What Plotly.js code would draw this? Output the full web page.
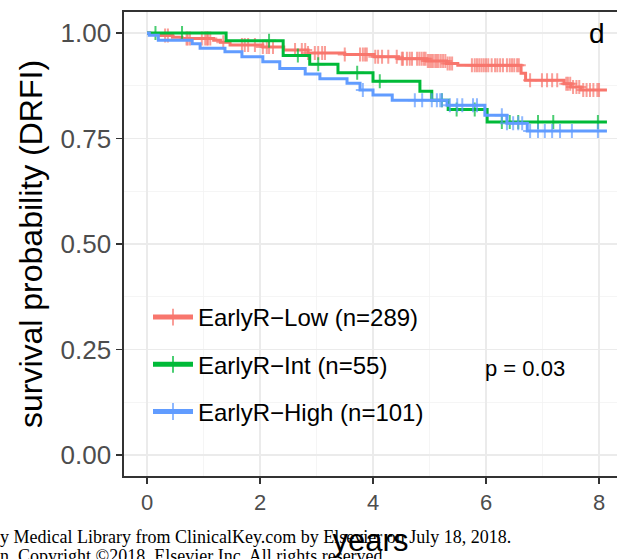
<!DOCTYPE html>
<html>
<head>
<meta charset="utf-8">
<script src="https://cdn.plot.ly/plotly-3.0.1.min.js"></script>
<style>html,body{margin:0;padding:0;background:#fff;overflow:hidden}</style>
</head>
<body>
<div id="chart" style="width:617px;height:559px"></div>
<script>
// ---- data ----
const groupNames = ["EarlyR\u2212Low (n=289)", "EarlyR\u2212Int (n=55)", "EarlyR\u2212High (n=101)"];
const groupColors = ["#F8766D", "#00BA38", "#619CFF"];

const lowEventT = [0.05, 0.22, 0.45, 0.62, 1.18, 1.30, 1.47, 2.05, 2.42, 2.85, 3.50, 4.02, 4.45, 4.95, 5.30, 5.50, 6.62, 6.70, 7.38, 7.50, 7.68];
const lowEventS = [0.997, 0.994, 0.990, 0.987, 0.983, 0.978, 0.972, 0.967, 0.960, 0.953, 0.949, 0.944, 0.939, 0.934, 0.928, 0.924, 0.905, 0.888, 0.880, 0.872, 0.865];
const lowCensor = [0.32, 0.37, 0.70, 0.72, 0.76, 0.97, 1.03, 1.06, 1.08, 1.12, 1.35, 1.68, 1.73, 1.79, 1.91, 2.05, 2.12, 2.16, 2.23, 2.62, 2.74, 2.80, 2.85, 2.97, 3.03, 3.10, 3.15, 3.50, 3.77, 3.82, 3.86, 3.89, 4.04, 4.09, 4.16, 4.27, 4.42, 4.51, 4.53, 4.60, 4.65, 4.69, 4.78, 4.82, 4.86, 4.90, 4.93, 4.97, 5.00, 5.03, 5.06, 5.10, 5.13, 5.16, 5.20, 5.24, 5.28, 5.32, 5.36, 5.40, 5.75, 5.80, 5.84, 5.88, 5.92, 5.96, 6.00, 6.04, 6.10, 6.16, 6.20, 6.25, 6.30, 6.37, 6.42, 6.46, 6.50, 6.55, 6.58, 6.78, 6.99, 7.08, 7.17, 7.26, 7.42, 7.45, 7.49, 7.54, 7.60, 7.65, 7.72, 7.78, 7.84, 7.90, 7.97, 8.00];

const intEventT = [1.40, 2.41, 2.88, 3.38, 4.00, 4.83, 5.04, 5.33, 6.02];
const intEventS = [0.982, 0.947, 0.926, 0.906, 0.886, 0.862, 0.841, 0.819, 0.789];
const intCensor = [0.15, 0.62, 2.16, 2.67, 3.03, 3.72, 4.12, 5.22, 5.48, 5.80, 6.28, 6.42, 6.57, 6.92, 7.19, 7.98];

const highEventT = [0.04, 0.20, 0.80, 0.94, 1.38, 1.68, 2.05, 2.35, 2.80, 3.06, 3.54, 3.77, 4.00, 4.34, 5.31, 5.98, 6.37, 6.73];
const highEventS = [0.995, 0.983, 0.975, 0.964, 0.956, 0.944, 0.932, 0.916, 0.903, 0.892, 0.881, 0.865, 0.853, 0.841, 0.829, 0.805, 0.786, 0.768];
const highCensor = [3.82, 4.74, 4.87, 5.04, 5.13, 5.19, 5.22, 5.36, 5.49, 5.58, 5.77, 5.84, 6.28, 6.37, 6.48, 6.57, 6.64, 6.78, 6.92, 7.04, 7.17, 7.31, 7.52, 7.98];

const followUpEnd = [8.14, 8.14, 8.14];

const yTickVals = [0, 0.25, 0.5, 0.75, 1.0];
const yTickText = ["0.00", "0.25", "0.50", "0.75", "1.00"];
const xTickVals = [0, 2, 4, 6, 8];
const xTickText = ["0", "2", "4", "6", "8"];
const pText = "p = 0.03";
const panelTag = "d";
const watermark1 = "y Medical Library from ClinicalKey.com by Elsevier on July 18, 2018.";
const watermark2 = "n. Copyright \u00A92018. Elsevier Inc. All rights reserved.";

// ---- build step curves (events + censor marks on the curve) ----
function survAt(t, evT, evS) {
  let s = 1;
  for (let i = 0; i < evT.length; i++) if (evT[i] <= t) s = evS[i];
  return s;
}
function buildCurve(evT, evS, cens, tEnd) {
  const pts = [{t: 0, s: 1, c: 0, o: 0}];
  evT.forEach((t, i) => pts.push({t: t, s: evS[i], c: 0, o: 1}));
  cens.forEach(t => pts.push({t: t, s: survAt(t, evT, evS), c: 1, o: 2}));
  pts.sort((a, b) => a.t - b.t || a.o - b.o);
  pts.push({t: tEnd, s: evS[evS.length - 1], c: 0, o: 3});
  return pts;
}
const curves = [
  buildCurve(lowEventT, lowEventS, lowCensor, followUpEnd[0]),
  buildCurve(intEventT, intEventS, intCensor, followUpEnd[1]),
  buildCurve(highEventT, highEventS, highCensor, followUpEnd[2])
];

const traces = curves.map((pts, g) => ({
  type: "scatter",
  mode: "lines+markers",
  name: groupNames[g],
  legendgroup: "g" + g,
  x: pts.map(p => p.t),
  y: pts.map(p => p.s),
  line: {shape: "hv", color: groupColors[g], width: 3},
  marker: {
    symbol: "cross-thin",
    size: pts.map(p => p.c ? 10 : 0),
    color: groupColors[g],
    line: {color: groupColors[g], width: 2}
  },
  cliponaxis: false,
  hoverinfo: "skip"
}));

// plot area geometry
const W = 617, H = 559, mL = 124, mR = 0, mT = 12, mB = 83;
const pw = W - mL - mR, ph = H - mT - mB;
const px2paperX = px => (px - mL) / pw;
const py2paperY = py => (H - mB - py) / ph;

const font = "Liberation Sans, Arial, Helvetica, sans-serif";
const layout = {
  width: W, height: H,
  margin: {l: mL, r: mR, t: mT, b: mB, pad: 0},
  paper_bgcolor: "#ffffff",
  plot_bgcolor: "#ffffff",
  font: {family: font, color: "#000"},
  showlegend: true,
  legend: {
    x: px2paperX(148), y: py2paperY(295), xanchor: "left", yanchor: "top",
    bgcolor: "rgba(0,0,0,0)", borderwidth: 0,
    font: {family: font, size: 24, color: "#000"},
    traceorder: "grouped", tracegroupgap: 13,
    itemsizing: "constant", itemwidth: 40
  },
  xaxis: {
    range: [-0.407, 8.318],
    tickvals: xTickVals, ticktext: xTickText,
    showgrid: true, gridcolor: "#EBEBEB", gridwidth: 1.4,
    minor: {dtick: 1, tick0: 0, showgrid: true, gridcolor: "#F3F3F3", gridwidth: 0.8, ticks: ""},
    zeroline: false,
    showline: true, linecolor: "#333333", linewidth: 1.6, mirror: true,
    ticks: "outside", ticklen: 6, tickwidth: 1.4, tickcolor: "#333333",
    tickfont: {family: font, size: 22, color: "#4D4D4D"},
    title: {text: "years", font: {family: font, size: 31, color: "#000"}, standoff: 15},
    automargin: false
  },
  yaxis: {
    range: [-0.05, 1.05],
    tickvals: yTickVals, ticktext: yTickText,
    showgrid: true, gridcolor: "#EBEBEB", gridwidth: 1.4,
    minor: {dtick: 0.125, tick0: 0, showgrid: true, gridcolor: "#F3F3F3", gridwidth: 0.8, ticks: ""},
    zeroline: false,
    showline: true, linecolor: "#333333", linewidth: 1.6, mirror: false,
    ticks: "outside", ticklen: 6, tickwidth: 1.4, tickcolor: "#333333",
    tickfont: {family: font, size: 26, color: "#4D4D4D"},
    title: {text: "survival probability (DRFI)", font: {family: font, size: 32, color: "#000"}, standoff: 8},
    automargin: false
  },
  shapes: [{
    type: "rect", layer: "between", xref: "paper", yref: "paper",
    x0: px2paperX(125), x1: px2paperX(433), y0: py2paperY(448), y1: py2paperY(270),
    fillcolor: "#ffffff", line: {width: 0}
  }],
  annotations: [
    {text: pText, xref: "x", yref: "y", x: 6.69, y: 0.204, showarrow: false,
     font: {family: font, size: 22, color: "#000"}},
    {text: panelTag, xref: "x", yref: "y", x: 7.96, y: 1.0, showarrow: false,
     font: {family: font, size: 28, color: "#000"}},
    {text: watermark1, xref: "paper", yref: "paper", x: px2paperX(-2), y: py2paperY(537),
     xanchor: "left", yanchor: "middle", showarrow: false,
     font: {family: "Liberation Serif, Times New Roman, serif", size: 18, color: "#000"}},
    {text: watermark2, xref: "paper", yref: "paper", x: px2paperX(-2), y: py2paperY(556),
     xanchor: "left", yanchor: "middle", showarrow: false,
     font: {family: "Liberation Serif, Times New Roman, serif", size: 18, color: "#000"}}
  ]
};

Plotly.newPlot("chart", traces, layout, {displayModeBar: false, staticPlot: true});
</script>
</body>
</html>
